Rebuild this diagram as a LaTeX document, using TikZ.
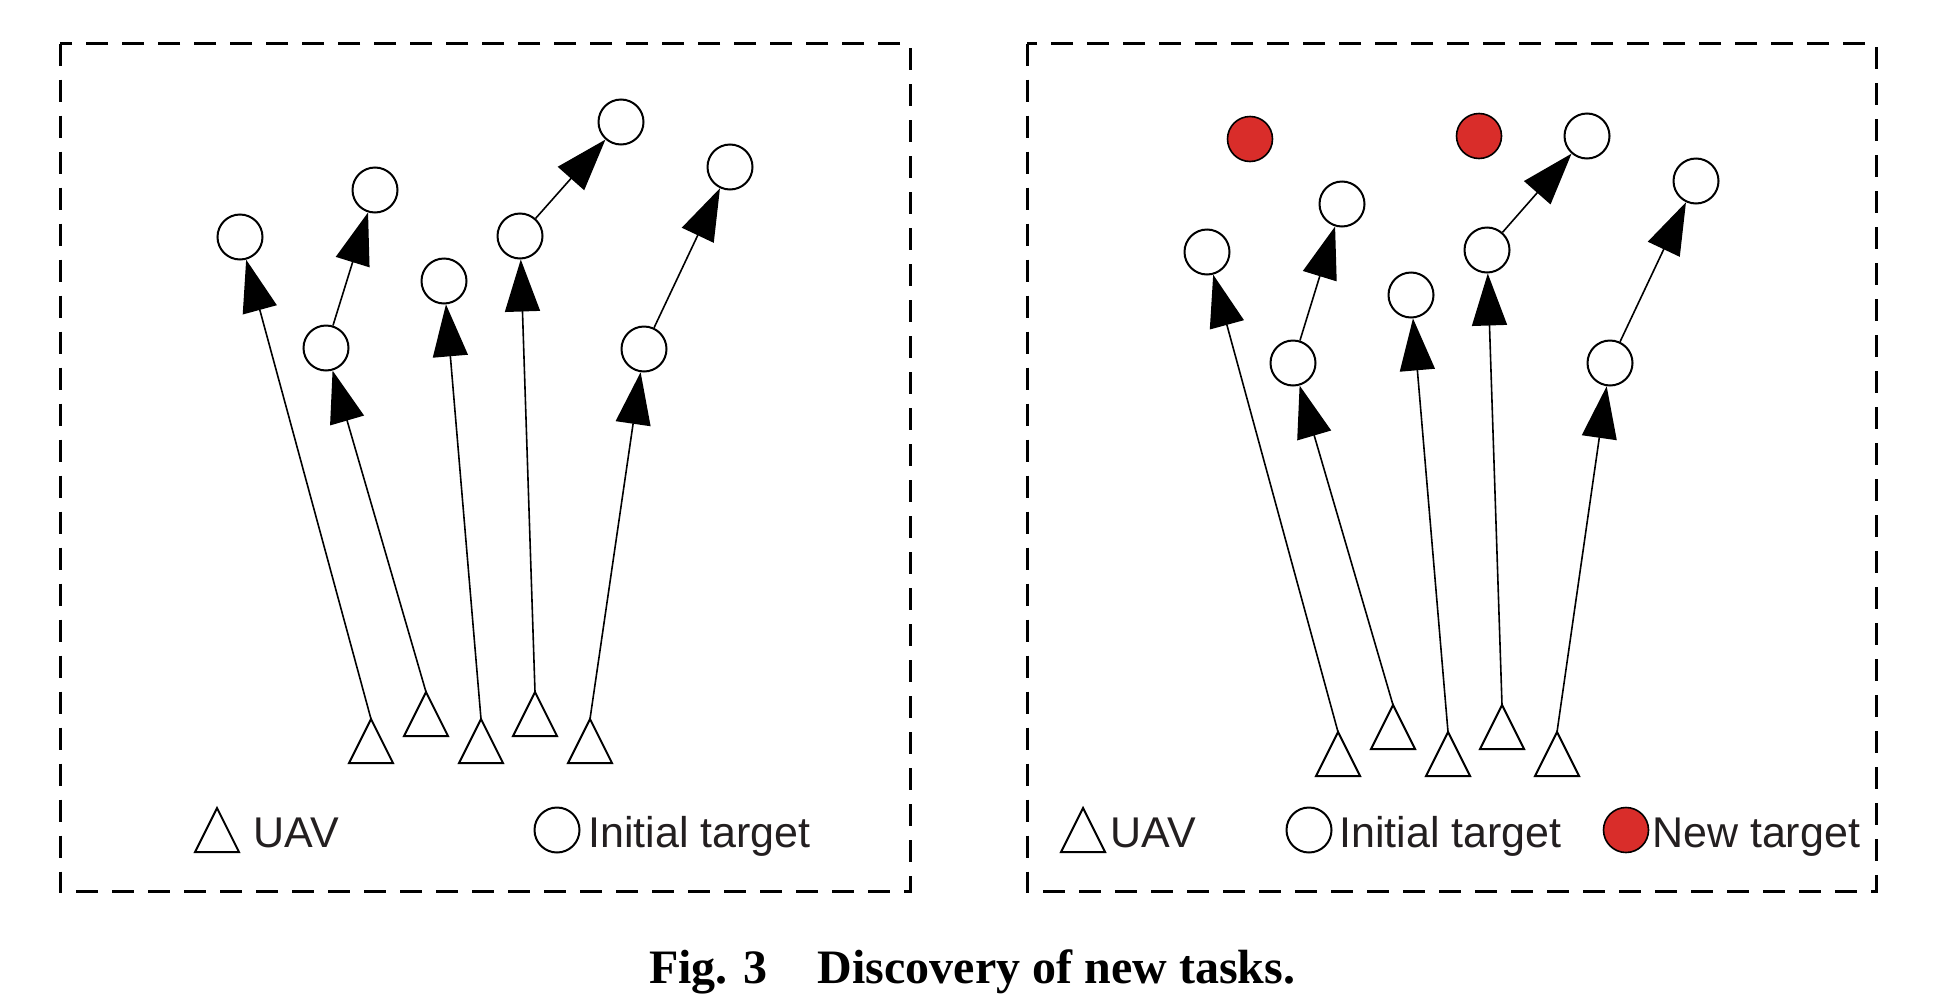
\documentclass[tikz,border=0pt]{standalone}
\usepackage{fontspec}
\newfontfamily\legendfont{Liberation Sans}
\newfontfamily\captionfont{Liberation Serif}
\usetikzlibrary{arrows.meta, shapes.geometric}
\definecolor{newred}{RGB}{217,45,42}
\definecolor{textdark}{RGB}{35,31,32}

\begin{document}
\begin{tikzpicture}[
    x=1pt, y=-1pt,
    panelbox/.style={draw=black, line width=3pt, dash pattern=on 22pt off 14pt},
    uav/.style={isosceles triangle, isosceles triangle stretches, shape border rotate=90, draw=black, line width=2pt, minimum width=44pt, minimum height=44pt, inner sep=0pt, outer sep=0pt, anchor=apex},
    target/.style={circle, draw=black, line width=2pt, fill=white, minimum size=45pt, inner sep=0pt},
    newtarget/.style={target, fill=newred, line width=1.6pt},
    link/.style={-{Triangle[length=52pt, width=35pt]}, line width=1.6pt, draw=black},
    legendtext/.style={anchor=base west, inner sep=0pt, text=textdark, font=\legendfont\fontsize{43}{50}\selectfont},
    caption/.style={anchor=base west, inner sep=0pt, font=\captionfont\bfseries\fontsize{48}{56}\selectfont}
]
\useasboundingbox (0,0) rectangle (1945,1004);

% 左图：初始任务
\draw[panelbox] (60,43.5) rectangle (910,891.5);

\node[uav] (l-t1) at (371,719) {};
\node[uav] (l-t2) at (426,692) {};
\node[uav] (l-t3) at (481,719) {};
\node[uav] (l-t4) at (535,692) {};
\node[uav] (l-t5) at (590,719) {};

\node[target] (l-a1) at (240,237) {};
\node[target] (l-b1) at (326,348) {};
\node[target] (l-b2) at (375,190) {};
\node[target] (l-c1) at (444,281) {};
\node[target] (l-d1) at (520,236) {};
\node[target] (l-d2) at (621,122) {};
\node[target] (l-e1) at (644,349) {};
\node[target] (l-e2) at (730,167) {};

\draw[link] (l-t1.apex) -- (l-a1);
\draw[link] (l-t2.apex) -- (l-b1);
\draw[link] (l-b1) -- (l-b2);
\draw[link] (l-t3.apex) -- (l-c1);
\draw[link] (l-t4.apex) -- (l-d1);
\draw[link] (l-d1) -- (l-d2);
\draw[link] (l-t5.apex) -- (l-e1);
\draw[link] (l-e1) -- (l-e2);

% 左图图例
\node[uav] (l-key-uav) at (217,808) {};
\node[legendtext] (l-key-uav-text) at (253.5,847) {UAV};
\node[target] (l-key-init) at (557,830) {};
\node[legendtext] (l-key-init-text) at (588,847) {Initial target};

% 右图：发现新任务
\draw[panelbox] (1027,43.5) rectangle (1876,891.5);

\node[uav] (r-t1) at (1338,732) {};
\node[uav] (r-t2) at (1393,705) {};
\node[uav] (r-t3) at (1448,732) {};
\node[uav] (r-t4) at (1502,705) {};
\node[uav] (r-t5) at (1557,732) {};

\node[target] (r-a1) at (1207,252) {};
\node[target] (r-b1) at (1293,363) {};
\node[target] (r-b2) at (1342,204) {};
\node[target] (r-c1) at (1411,295) {};
\node[target] (r-d1) at (1487,250) {};
\node[target] (r-d2) at (1587,136) {};
\node[target] (r-e1) at (1610,363) {};
\node[target] (r-e2) at (1696,181) {};

\node[newtarget] (r-n1) at (1250,139) {};
\node[newtarget] (r-n2) at (1479,136) {};

\draw[link] (r-t1.apex) -- (r-a1);
\draw[link] (r-t2.apex) -- (r-b1);
\draw[link] (r-b1) -- (r-b2);
\draw[link] (r-t3.apex) -- (r-c1);
\draw[link] (r-t4.apex) -- (r-d1);
\draw[link] (r-d1) -- (r-d2);
\draw[link] (r-t5.apex) -- (r-e1);
\draw[link] (r-e1) -- (r-e2);

% 右图图例
\node[uav] (r-key-uav) at (1083,808) {};
\node[legendtext] (r-key-uav-text) at (1110.5,847) {UAV};
\node[target] (r-key-init) at (1309,830) {};
\node[legendtext] (r-key-init-text) at (1339,847) {Initial target};
\node[newtarget] (r-key-new) at (1626,830) {};
\node[legendtext] (r-key-new-text) at (1652,847) {New target};

% 图题
\node[caption] (title) at (649,983) {Fig. 3\hspace{50pt}Discovery of new tasks.};
\end{tikzpicture}
\end{document}
